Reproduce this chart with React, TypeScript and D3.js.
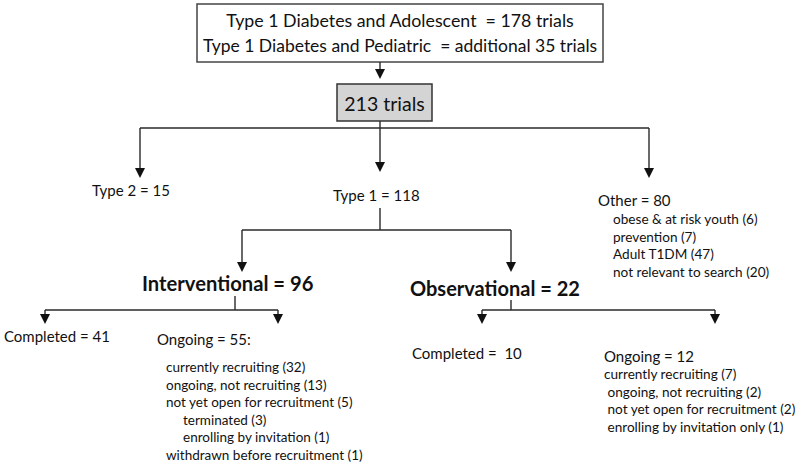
import React from "react";
import * as d3 from "d3";

const topLines = [
  "Type 1 Diabetes and Adolescent  = 178 trials",
  "Type 1 Diabetes and Pediatric  = additional 35 trials",
];
const totalLabel = "213 trials";
const levelOne = ["Type 2 = 15", "Type 1 = 118", "Other = 80"];
const otherItems = [
  "obese & at risk youth (6)",
  "prevention (7)",
  "Adult T1DM (47)",
  "not relevant to search (20)",
];
const studyTypes = ["Interventional = 96", "Observational = 22"];
const intervLabels = ["Completed = 41", "Ongoing = 55:"];
const intervItems = [
  "currently recruiting (32)",
  "ongoing, not recruiting (13)",
  "not yet open for recruitment (5)",
  "terminated (3)",
  "enrolling by invitation (1)",
  "withdrawn before recruitment (1)",
];
const intervIndent = [0, 0, 0, 1, 1, 0];
const obsLabels = ["Completed =  10", "Ongoing = 12"];
const obsItems = [
  "currently recruiting (7)",
  " ongoing, not recruiting (2)",
  " not yet open for recruitment (2)",
  " enrolling by invitation only (1)",
];

const FONT = "Lato, 'Open Sans', sans-serif";
const STROKE = "#2a2a2a";

const line = d3.line<[number, number]>();

function Arrow({ pts }: { pts: [number, number][] }) {
  const last = pts[pts.length - 1];
  const shaft = pts.slice(0, -1).concat([[last[0], last[1] - 8]]);
  const head = d3.path();
  head.moveTo(last[0] - 5, last[1] - 10);
  head.lineTo(last[0] + 5, last[1] - 10);
  head.lineTo(last[0], last[1]);
  head.closePath();
  return (
    <g>
      <path d={line(shaft) || ""} fill="none" stroke={STROKE} strokeWidth={1.4} />
      <path d={head.toString()} fill="#111" />
    </g>
  );
}

function Seg({ pts }: { pts: [number, number][] }) {
  return <path d={line(pts) || ""} fill="none" stroke={STROKE} strokeWidth={1.4} />;
}

const pre = { whiteSpace: "pre" as const };

export default function App() {
  const yScaleOther = d3.scaleLinear().domain([0, 1]).range([219, 236.5]);
  const yScaleInt = d3.scaleLinear().domain([0, 1]).range([367, 384.5]);
  const yScaleObs = d3.scaleLinear().domain([0, 1]).range([374, 391.5]);
  return (
    <svg width={800} height={465} style={{ position: "absolute", left: 0, top: 0, background: "#fff" }}>
      <rect width={800} height={465} fill="#fff" />
      {/* top box */}
      <rect x={197} y={4} width={406} height={58} fill="#fff" stroke="#444" strokeWidth={1.5} />
      <text x={400} y={20} textAnchor="middle" dominantBaseline="central"
        fontFamily={FONT} fontSize={17.8} fill="#111" style={pre}>{topLines[0]}</text>
      <text x={400} y={45} textAnchor="middle" dominantBaseline="central"
        fontFamily={FONT} fontSize={17.5} fill="#111" style={pre}>{topLines[1]}</text>
      <Arrow pts={[[380, 62], [380, 79]]} />
      {/* total box */}
      <rect x={337} y={84} width={95} height={37} fill="#d4d4d4" stroke="#333" strokeWidth={1.5} />
      <text x={384.5} y={103} textAnchor="middle" dominantBaseline="central" fontFamily={FONT}
        fontSize={19.5} fill="#111">{totalLabel}</text>
      {/* level one connectors */}
      <Seg pts={[[380, 121], [380, 128]]} />
      <Seg pts={[[140, 128], [649, 128]]} />
      <Arrow pts={[[140, 128], [140, 178]]} />
      <Arrow pts={[[380, 128], [380, 172]]} />
      <Arrow pts={[[649, 128], [649, 178]]} />
      <text x={92} y={190} dominantBaseline="central" fontFamily={FONT} fontSize={15} fill="#111">{levelOne[0]}</text>
      <text x={333} y={195} dominantBaseline="central" fontFamily={FONT} fontSize={15} fill="#111">{levelOne[1]}</text>
      <text x={598} y={200} dominantBaseline="central" fontFamily={FONT} fontSize={15} fill="#111">{levelOne[2]}</text>
      {otherItems.map((t, i) => (
        <text key={i} x={613} y={yScaleOther(i)} dominantBaseline="central" fontFamily={FONT} fontSize={13.6} fill="#111">{t}</text>
      ))}
      {/* type 1 split */}
      <Seg pts={[[380, 208], [380, 230]]} />
      <Seg pts={[[242, 230], [511, 230]]} />
      <Arrow pts={[[242, 230], [242, 272]]} />
      <Arrow pts={[[511, 230], [511, 272]]} />
      <text x={142} y={283} dominantBaseline="central" fontFamily={FONT} fontSize={20.2} fontWeight="bold" fill="#111">{studyTypes[0]}</text>
      <text x={410} y={288} dominantBaseline="central" fontFamily={FONT} fontSize={20} fontWeight="bold" fill="#111">{studyTypes[1]}</text>
      {/* interventional split */}
      <Seg pts={[[235, 296], [235, 310]]} />
      <Seg pts={[[45, 310], [278, 310]]} />
      <Arrow pts={[[45, 310], [45, 324]]} />
      <Arrow pts={[[278, 310], [278, 324]]} />
      <text x={4} y={336} dominantBaseline="central" fontFamily={FONT} fontSize={15} fill="#111">{intervLabels[0]}</text>
      <text x={157} y={339} dominantBaseline="central" fontFamily={FONT} fontSize={15} fill="#111">{intervLabels[1]}</text>
      {intervItems.map((t, i) => (
        <text key={i} x={166 + intervIndent[i] * 17} y={yScaleInt(i)} dominantBaseline="central" fontFamily={FONT} fontSize={13.5} fill="#111">{t}</text>
      ))}
      {/* observational split */}
      <Seg pts={[[511, 300], [511, 310]]} />
      <Seg pts={[[482, 310], [715, 310]]} />
      <Arrow pts={[[482, 310], [482, 324]]} />
      <Arrow pts={[[715, 310], [715, 324]]} />
      <text x={412} y={353} dominantBaseline="central" fontFamily={FONT} fontSize={15} fill="#111" style={pre}>{obsLabels[0]}</text>
      <text x={604} y={356} dominantBaseline="central" fontFamily={FONT} fontSize={15} fill="#111">{obsLabels[1]}</text>
      {obsItems.map((t, i) => (
        <text key={i} x={604} y={yScaleObs(i)} dominantBaseline="central" fontFamily={FONT} fontSize={13.6} fill="#111" style={pre}>{t}</text>
      ))}
    </svg>
  );
}
